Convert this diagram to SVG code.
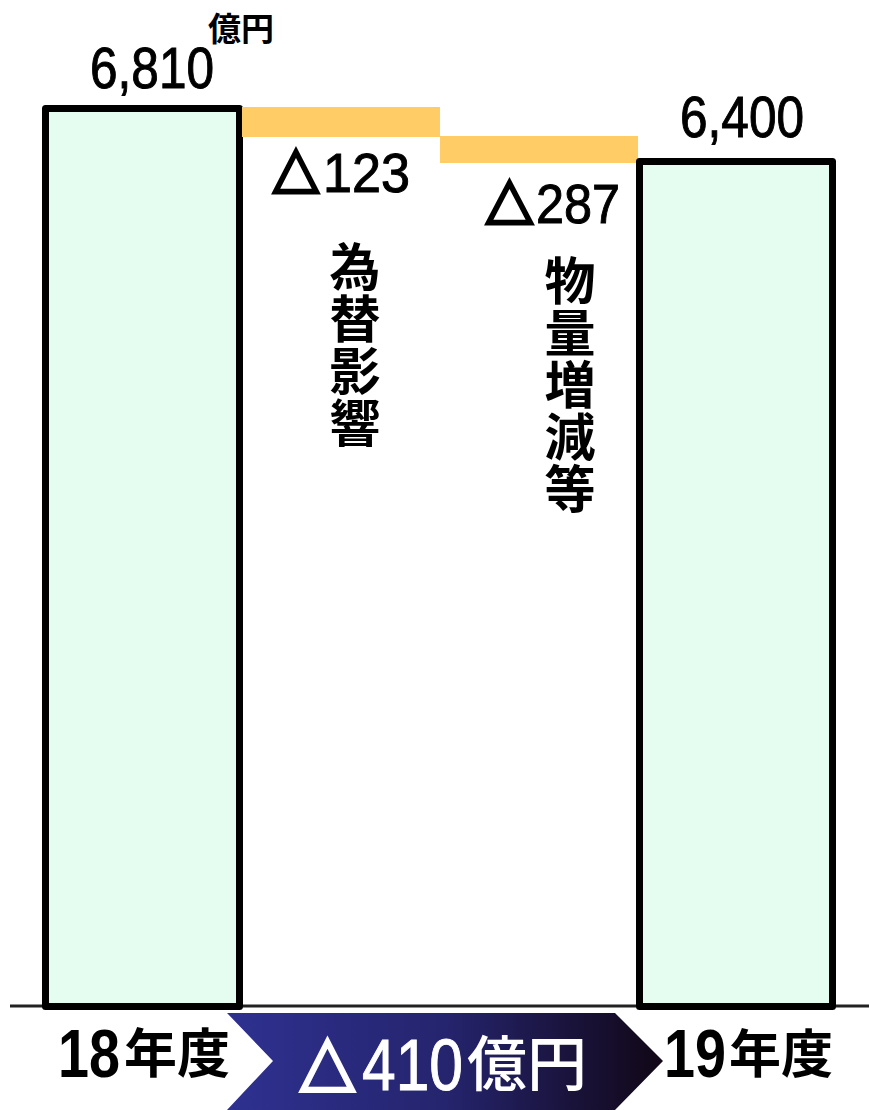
<svg xmlns="http://www.w3.org/2000/svg" width="869" height="1110" viewBox="0 0 869 1110">
<defs>
<linearGradient id="band" x1="0" y1="0" x2="1" y2="0">
<stop offset="0" stop-color="#2E3190"/>
<stop offset="0.5" stop-color="#25246E"/>
<stop offset="1" stop-color="#110716"/>
</linearGradient>
<style>
.bar{fill:#E5FDF0;stroke:#000;stroke-width:7;stroke-linejoin:round}
.delta{fill:#FFCC66}
.num{font-family:"Liberation Sans",sans-serif;fill:#000;stroke:#000;stroke-width:1}
.tri{font-family:"DejaVu Sans",sans-serif;fill:#000;stroke:#000;stroke-width:2.5;stroke-linejoin:miter}
.cjk{font-family:"Noto Sans CJK JP",sans-serif;font-weight:bold;fill:#000}
.vt{font-family:"Noto Sans CJK JP",sans-serif;font-weight:bold;font-size:51px;fill:#000;writing-mode:vertical-rl;letter-spacing:1px}
.w{fill:#fff;stroke:#fff}
</style>
</defs>
<rect width="869" height="1110" fill="#fff"/>
<g id="connectors">
<line x1="10" y1="1006" x2="869" y2="1006" stroke="#222" stroke-width="3"/>
</g>
<g id="bar18">
<rect class="bar" x="45.5" y="108.5" width="194" height="898"/>
<text class="num" x="90" y="88" font-size="58" textLength="124" lengthAdjust="spacingAndGlyphs">6,810</text>
<text class="cjk" x="208" y="41" font-size="33">億円</text>
</g>
<g id="fx">
<rect class="delta" x="242" y="107" width="198" height="30"/>
<text class="tri" x="273" y="186" font-size="58" textLength="46" lengthAdjust="spacingAndGlyphs">△</text>
<text class="num" x="323" y="192" font-size="56" textLength="87" lengthAdjust="spacingAndGlyphs">123</text>
<text class="vt" x="355" y="241">為替影響</text>
</g>
<g id="volume">
<rect class="delta" x="440" y="136" width="198" height="27"/>
<text class="tri" x="486" y="217" font-size="58" textLength="47" lengthAdjust="spacingAndGlyphs">△</text>
<text class="num" x="536" y="223" font-size="56" textLength="84" lengthAdjust="spacingAndGlyphs">287</text>
<text class="vt" x="570" y="255">物量増減等</text>
</g>
<g id="bar19">
<rect class="bar" x="639.5" y="161.5" width="193" height="845"/>
<text class="num" x="680" y="137" font-size="58" textLength="124" lengthAdjust="spacingAndGlyphs">6,400</text>
</g>
<g id="label18">
<text class="num" x="58" y="1077" font-size="68" font-weight="bold" textLength="62" lengthAdjust="spacingAndGlyphs" style="stroke-width:0">18</text>
<text class="cjk" x="124" y="1073" font-size="53">年度</text>
</g>
<g id="total">
<polygon points="227,1013 615,1013 663,1061 615,1110 227,1110 273,1061" fill="url(#band)"/>
<text class="tri w" x="300" y="1083" font-size="70" textLength="55" lengthAdjust="spacingAndGlyphs">△</text>
<text class="num w" x="362" y="1090" font-size="72" textLength="101" lengthAdjust="spacingAndGlyphs">410</text>
<text class="cjk" x="467" y="1086" font-size="60" style="fill:#fff;font-weight:500">億円</text>
</g>
<g id="label19">
<text class="num" x="664" y="1077" font-size="68" font-weight="bold" textLength="62" lengthAdjust="spacingAndGlyphs" style="stroke-width:0">19</text>
<text class="cjk" x="729" y="1073" font-size="52">年度</text>
</g>
</svg>
